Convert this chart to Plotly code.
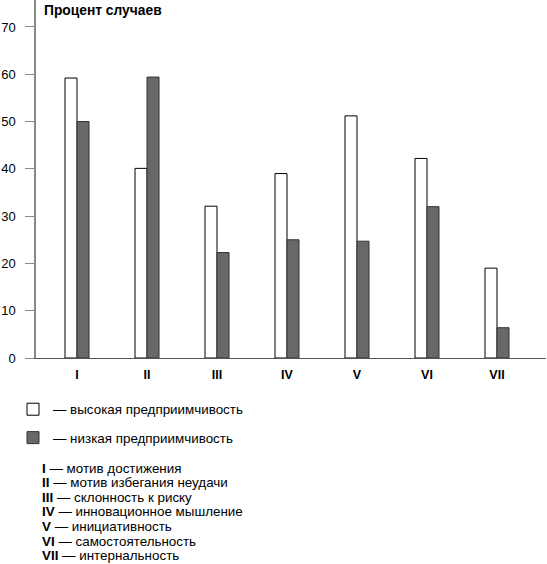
import plotly.graph_objects as go

# data
categories = ["I", "II", "III", "IV", "V", "VI", "VII"]
high = [59.2, 40.1, 32.1, 39.0, 51.2, 42.2, 19.0]   # высокая предприимчивость
low = [50.0, 59.4, 22.3, 25.0, 24.7, 32.0, 6.4]     # низкая предприимчивость
y_ticks = [0, 10, 20, 30, 40, 50, 60, 70]

key_lines = [
    "<b>I</b> — мотив достижения",
    "<b>II</b> — мотив избегания неудачи",
    "<b>III</b> — склонность к риску",
    "<b>IV</b> — инновационное мышление",
    "<b>V</b> — инициативность",
    "<b>VI</b> — самостоятельность",
    "<b>VII</b> — интернальность",
]

FONT = "Liberation Sans, Arial, sans-serif"
W, H = 547, 564
PLOT_LEFT, PLOT_RIGHT = 36, 1
PLOT_TOP, PLOT_BOTTOM = 0, 358
ph = PLOT_BOTTOM - PLOT_TOP
pw = W - PLOT_LEFT - PLOT_RIGHT


def paper_x(px):
    return (px - PLOT_LEFT) / pw


def paper_y(py):
    return (PLOT_BOTTOM - py) / ph


fig = go.Figure()
fig.add_trace(go.Bar(
    x=categories, y=high, name="— высокая предприимчивость",
    marker=dict(color="white", line=dict(color="black", width=1)),
    legendgroup="a",
))
fig.add_trace(go.Bar(
    x=categories, y=low, name="— низкая предприимчивость",
    marker=dict(color="#686868", line=dict(color="#333333", width=1)),
    legendgroup="b",
))

annotations = [dict(
    text="<b>Процент случаев</b>", x=paper_x(42), xref="paper", y=paper_y(1),
    yref="paper", xanchor="left", yanchor="top", showarrow=False,
    font=dict(size=13.8, color="black", family=FONT),
)]
for i, line in enumerate(key_lines):
    annotations.append(dict(
        text=line, x=paper_x(40), xref="paper", y=paper_y(468 + i * 14.6),
        yref="paper", xanchor="left", yanchor="middle", showarrow=False,
        font=dict(size=13.4, color="black", family=FONT),
    ))

fig.update_layout(
    width=W, height=H,
    margin=dict(l=PLOT_LEFT, r=PLOT_RIGHT, t=PLOT_TOP, b=H - PLOT_BOTTOM),
    paper_bgcolor="white", plot_bgcolor="white",
    font=dict(family=FONT, size=12.5, color="black"),
    barmode="group", bargap=0.657, bargroupgap=0,
    showlegend=True,
    legend=dict(
        x=paper_x(13), xanchor="left", y=paper_y(394), yanchor="top",
        tracegroupgap=8, bgcolor="rgba(0,0,0,0)",
        font=dict(size=13.4, color="black", family=FONT),
    ),
    xaxis=dict(
        range=[-0.586, 6.7], showline=True, linecolor="#555555", linewidth=1.2,
        ticks="", showgrid=False, zeroline=False, ticklabelstandoff=5,
        tickvals=categories, ticktext=["<b>%s</b>" % c for c in categories],
        tickfont=dict(size=12.5, color="black", family=FONT),
    ),
    yaxis=dict(
        range=[0, 75.7], tickvals=y_ticks, showline=True, linecolor="#8a8a8a",
        linewidth=1.5, ticks="outside", ticklen=9, tickcolor="#8a8a8a",
        tickwidth=1.2, showgrid=False, zeroline=False, ticklabelstandoff=7,
        tickfont=dict(size=13, color="black", family=FONT),
    ),
    yaxis2=dict(
        range=[0, 75.7], tickvals=y_ticks, overlaying="y", side="left",
        ticks="inside", ticklen=8, tickcolor="#8a8a8a", tickwidth=1.2,
        showticklabels=False, showline=False, showgrid=False, zeroline=False,
    ),
    annotations=annotations,
)

fig.write_html("out.html", config={"displayModeBar": False},
               post_script="document.body.style.margin='0';")
